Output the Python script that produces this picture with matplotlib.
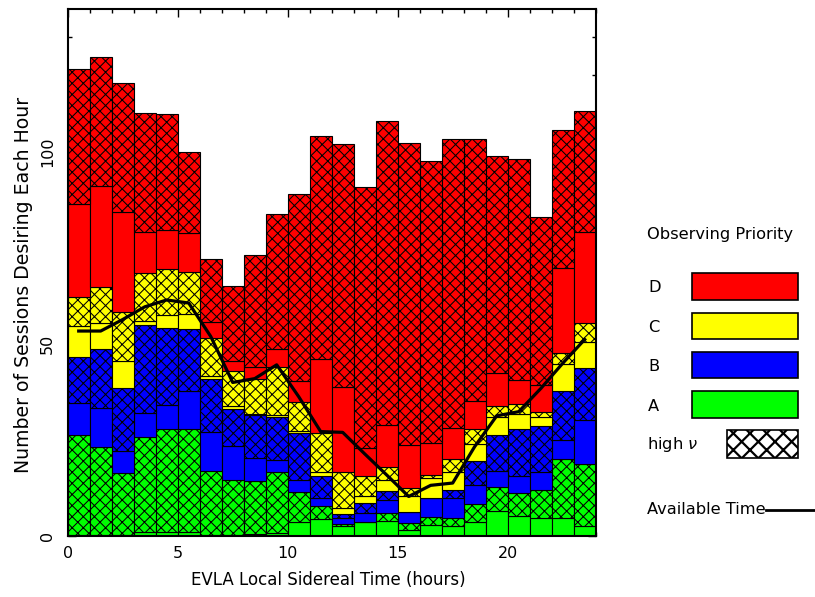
import numpy as np
import matplotlib
matplotlib.use('Agg')
import matplotlib.pyplot as plt
from matplotlib.patches import Rectangle
from matplotlib.lines import Line2D
from matplotlib.ticker import MultipleLocator

# ---------------- data ----------------
lst_hours = np.arange(24) + 0.5

A_low  = [0.3, 0.3, 0.3, 1.0, 1.0, 1.0, 0.3, 0.3, 0.5, 0.8, 3.7, 4.3, 2.7, 3.7, 3.9, 1.6, 2.9, 2.7, 3.7, 6.4, 5.3, 4.8, 4.8, 2.7]
A_high = [25.9, 23.0, 16.0, 24.7, 26.8, 26.8, 16.7, 14.2, 13.8, 15.9, 7.8, 3.5, 0.3, 0.0, 2.0, 1.8, 2.1, 1.9, 4.6, 6.3, 5.8, 7.1, 15.3, 16.0]
B_low  = [8.4, 10.0, 5.8, 6.4, 6.4, 9.9, 10.0, 8.9, 6.0, 3.1, 3.0, 2.1, 1.6, 2.2, 3.4, 2.8, 4.9, 5.3, 4.9, 4.3, 4.5, 4.9, 5.0, 11.4]
B_high = [12.1, 15.5, 16.4, 22.9, 20.1, 16.3, 14.0, 9.6, 11.1, 11.2, 12.3, 5.7, 1.1, 2.6, 2.4, 0.0, 0.0, 2.2, 6.3, 9.2, 12.4, 11.9, 12.8, 13.6]
C_low  = [8.1, 6.8, 7.0, 0.9, 3.4, 3.9, 0.7, 0.9, 0.5, 0.5, 0.5, 1.1, 1.5, 2.0, 2.8, 4.2, 5.1, 4.7, 4.5, 4.8, 3.9, 2.4, 7.0, 6.8]
C_high = [7.5, 9.2, 12.8, 12.6, 11.9, 10.9, 10.0, 9.0, 9.1, 12.6, 7.7, 10.1, 9.4, 5.1, 3.5, 2.1, 0.9, 3.3, 3.9, 2.8, 2.4, 1.1, 2.8, 4.9]
D_low  = [24.3, 26.4, 26.2, 10.6, 10.0, 10.2, 4.1, 2.8, 3.0, 4.7, 5.4, 19.4, 22.1, 7.3, 10.8, 11.1, 8.4, 8.0, 7.3, 8.6, 6.3, 7.1, 22.2, 23.7]
D_high = [35.0, 33.6, 33.5, 31.0, 30.4, 21.0, 16.3, 19.5, 29.3, 35.2, 48.6, 58.0, 63.5, 68.0, 79.3, 78.9, 73.4, 75.3, 68.2, 56.7, 57.6, 43.8, 35.8, 31.7]

available_time = [53.4, 53.4, 56.4, 59.7, 61.5, 60.7, 52.0, 40.0, 41.0, 44.6, 36.3, 27.2,
                  27.0, 21.4, 15.9, 10.3, 13.2, 13.8, 23.3, 31.3, 32.4, 38.4, 45.0, 51.2]

priority_names = ['A', 'B', 'C', 'D']
priority_colors = ['#00ff00', '#0000ff', '#ffff00', '#ff0000']
x_ticks = [0, 5, 10, 15, 20]
y_ticks = [0, 50, 100]

# ---------------- style ----------------
plt.rcParams['font.family'] = ['DejaVu Sans']
plt.rcParams['hatch.linewidth'] = 0.75
plt.rcParams['hatch.color'] = 'black'
HATCH = 'xxx'
W, H = 815, 597

fig = plt.figure(figsize=(W / 100, H / 100), dpi=100)
ax = fig.add_axes([67.7 / W, 1 - 536 / H, (595.7 - 67.7) / W, (536 - 9) / H])

series = [(A_low, A_high), (B_low, B_high), (C_low, C_high), (D_low, D_high)]
bottom = np.zeros(len(lst_hours))
for (low, high), color in zip(series, priority_colors):
    for vals, hatch in ((low, None), (high, HATCH)):
        vals = np.asarray(vals, dtype=float)
        ax.bar(lst_hours, vals, width=1.0, bottom=bottom, color=color,
               edgecolor='black', linewidth=0.8, hatch=hatch, zorder=2)
        bottom += vals

ax.plot(lst_hours, available_time, color='black', lw=2.3, zorder=3)

ax.set_xlim(0, 24)
ax.set_ylim(0, 137.3)
ax.set_xticks(x_ticks)
ax.xaxis.set_minor_locator(MultipleLocator(1))
ax.set_yticks(y_ticks)
ax.yaxis.set_minor_locator(MultipleLocator(10))
ax.tick_params(which='both', direction='in', top=True, right=True, width=1.0, labelsize=11.5)
ax.tick_params(which='major', length=5.5)
ax.tick_params(which='minor', length=3)
ax.tick_params(axis='x', pad=7)
ax.tick_params(axis='y', pad=9)
for lab in ax.get_yticklabels():
    lab.set_rotation(90)
    lab.set_va('center')
for sp in ax.spines.values():
    sp.set_linewidth(1.5)
    sp.set_zorder(4)

fig.text(328 / W, 1 - 580 / H, 'EVLA Local Sidereal Time (hours)', ha='center', va='center', fontsize=12)
fig.text(24 / W, 1 - 285 / H, 'Number of Sessions Desiring Each Hour', ha='center', va='center',
         rotation=90, fontsize=13.6)

# ---------------- legend (drawn manually) ----------------
LFS = 11.7
fig.text(647 / W, 1 - 235 / H, 'Observing Priority', ha='left', va='center', fontsize=LFS)
box_tops = {'D': 273, 'C': 312.7, 'B': 351.7, 'A': 391}
label_y = {'D': 287.7, 'C': 327.7, 'B': 366.7, 'A': 406.7}
for name, color in zip(priority_names, priority_colors):
    y0 = box_tops[name]
    fig.patches.append(Rectangle((692 / W, 1 - (y0 + 26.5) / H), 105.5 / W, 26.5 / H,
                                 transform=fig.transFigure, facecolor=color,
                                 edgecolor='black', linewidth=1.2))
    fig.text(648 / W, 1 - label_y[name] / H, name, ha='left', va='center', fontsize=LFS)

with plt.rc_context({'hatch.linewidth': 1.6}):
    fig.patches.append(Rectangle((727 / W, 1 - 458.3 / H), 71 / W, 28.3 / H,
                                 transform=fig.transFigure, facecolor='white',
                                 edgecolor='black', linewidth=1.2, hatch='xx'))
fig.text(647 / W, 1 - 444.3 / H, r'high $\nu$', ha='left', va='center', fontsize=LFS)

fig.text(647 / W, 1 - 510 / H, 'Available Time', ha='left', va='center', fontsize=LFS)
fig.lines.append(Line2D([766 / W, 815 / W], [1 - 510 / H, 1 - 510 / H],
                        transform=fig.transFigure, color='black', lw=2))

fig.savefig('out.png', dpi=100)
